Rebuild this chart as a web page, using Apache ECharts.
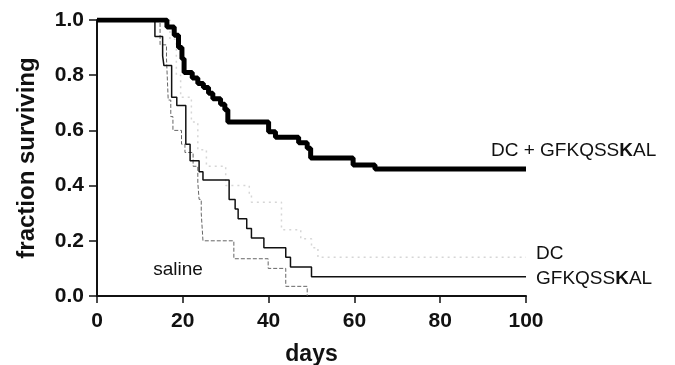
<!DOCTYPE html>
<html>
<head>
<meta charset="utf-8">
<script src="https://cdn.jsdelivr.net/npm/echarts@6/dist/echarts.min.js"></script>
<style>
  html, body { margin: 0; padding: 0; background: #fff; }
  #chart { width: 675px; height: 365px; }
</style>
</head>
<body>
<div id="chart"></div>
<script>
// survival curves: [day, fraction surviving]
const dcPeptide = [[0, 1], [16.3, 0.975], [18, 0.945], [19, 0.9], [19.8, 0.86], [20.3, 0.81], [22.2, 0.79],
  [23.5, 0.77], [24.8, 0.755], [26, 0.735], [27, 0.715], [28.8, 0.695], [29.8, 0.675], [30.5, 0.63],
  [40, 0.595], [41.6, 0.575], [47, 0.555], [49, 0.535], [49.8, 0.5], [59.7, 0.475], [64.8, 0.46], [100, 0.46]];
const dcOnly = [[0, 1], [17, 0.93], [18.5, 0.8], [19.5, 0.72], [22, 0.63], [23.5, 0.53], [25.5, 0.47],
  [30, 0.4], [35.5, 0.37], [36, 0.34], [43, 0.24], [47.5, 0.207], [50, 0.175], [51.5, 0.14], [100, 0.14]];
const peptideOnly = [[0, 1], [13.5, 0.94], [15.3, 0.87], [15.6, 0.835], [17.4, 0.72], [18.6, 0.69],
  [20.7, 0.55], [21.7, 0.49], [23.8, 0.45], [24.7, 0.42], [30.8, 0.35], [32.2, 0.315], [32.9, 0.28],
  [34.9, 0.245], [36, 0.21], [38.9, 0.175], [44, 0.14], [45.1, 0.105], [50, 0.07], [100, 0.07]];
const saline = [[0, 1], [14.7, 0.91], [16.2, 0.86], [16.6, 0.71], [17.2, 0.65], [17.7, 0.6], [19.7, 0.55],
  [20.5, 0.52], [22.4, 0.47], [23.5, 0.41], [23.8, 0.35], [24.3, 0.3], [24.7, 0.2], [31.9, 0.135],
  [39.9, 0.1], [44, 0.035], [49, 0]];

const salineLabelAt = [18.9, 0.094];

const font = 'Liberation Sans, Arial, Helvetica, sans-serif';
const rich = {
  n: { fontFamily: font, fontSize: 19, color: '#111' },
  b: { fontFamily: font, fontSize: 19, color: '#111', fontWeight: 'bold' }
};

const chart = echarts.init(document.getElementById('chart'));

const stepLine = (name, data, lineStyle, z) => ({
  name: name,
  type: 'line',
  step: 'end',
  data: data,
  symbol: 'none',
  animation: false,
  silent: true,
  z: z,
  lineStyle: lineStyle
});

const option = {
  backgroundColor: '#fff',
  grid: { left: 97, right: 149, top: 20, bottom: 69, outerBoundsMode: 'none' },
  xAxis: {
    type: 'value',
    min: 0,
    max: 100,
    interval: 20,
    name: 'days',
    nameLocation: 'middle',
    nameGap: 47,
    nameTextStyle: { fontFamily: font, fontWeight: 'bold', fontSize: 23, color: '#111' },
    axisLine: { lineStyle: { color: '#111', width: 2 } },
    axisTick: { inside: false, length: 7, lineStyle: { color: '#111', width: 1.5 } },
    axisLabel: { fontFamily: font, fontWeight: 'bold', fontSize: 21, color: '#111', margin: 15 },
    splitLine: { show: false }
  },
  yAxis: {
    type: 'value',
    min: 0,
    max: 1,
    interval: 0.2,
    name: 'fraction surviving',
    nameLocation: 'middle',
    nameRotate: 90,
    nameGap: 58,
    nameTextStyle: { fontFamily: font, fontWeight: 'bold', fontSize: 24, color: '#111' },
    axisLine: { show: true, lineStyle: { color: '#111', width: 2 } },
    axisTick: { show: true, inside: false, length: 8, lineStyle: { color: '#111', width: 1.5 } },
    axisLabel: {
      fontFamily: font, fontWeight: 'bold', fontSize: 21, color: '#111', margin: 13,
      formatter: v => v.toFixed(1)
    },
    splitLine: { show: false }
  },
  series: [
    Object.assign(stepLine('DC', dcOnly, { color: '#d6d6d6', width: 1.5, type: [2, 4] }, 1), {
      endLabel: { show: true, formatter: 'DC', fontFamily: font, fontSize: 19, color: '#111', distance: 10, offset: [0, -4] }
    }),
    Object.assign(stepLine('saline', saline, { color: '#666', width: 1, type: [4, 2] }, 2), {
      markPoint: {
        symbol: 'circle',
        symbolSize: 0,
        data: [{ coord: salineLabelAt }],
        label: { show: true, position: 'inside', formatter: 'saline', fontFamily: font, fontSize: 19, color: '#111' }
      }
    }),
    Object.assign(stepLine('GFKQSSKAL', peptideOnly, { color: '#111', width: 1.5 }, 3), {
      endLabel: { show: true, formatter: '{n|GFKQSS}{b|K}{n|AL}', rich: rich, distance: 10, offset: [0, 2] }
    }),
    Object.assign(stepLine('DC + GFKQSSKAL', dcPeptide, { color: '#000', width: 5 }, 4), {
      endLabel: { show: true, formatter: '{n|DC + GFKQSS}{b|K}{n|AL}', rich: rich, distance: 10, offset: [-45, -18] }
    })
  ]
};

chart.setOption(option);
</script>
</body>
</html>
